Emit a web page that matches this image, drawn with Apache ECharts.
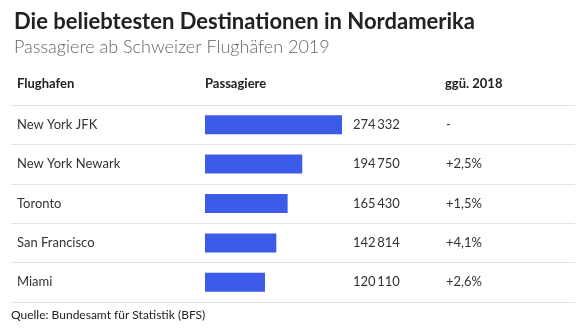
<!DOCTYPE html>
<html>
<head>
<meta charset="utf-8">
<script src="https://cdn.jsdelivr.net/npm/echarts@6/dist/echarts.min.js"></script>
<style>
  html, body { margin: 0; padding: 0; background: #fff; }
  #chart { width: 582px; height: 331px; }
</style>
</head>
<body>
<div id="chart"></div>
<script>
// Airports and passenger counts from Swiss airports, 2019
const airports = ['New York JFK', 'New York Newark', 'Toronto', 'San Francisco', 'Miami'];
const passengers = [274332, 194750, 165430, 142814, 120110];
// Change versus 2018 in percent (null = no comparison)
const changeVs2018 = [null, 2.5, 1.5, 4.1, 2.6];
const columnHeaders = ['Flughafen', 'Passagiere', 'ggü. 2018'];

const FONT = 'Lato, "Noto Sans", sans-serif';

function fmtThousands(v) {
  return String(v).replace(/\B(?=(\d{3})+(?!\d))/g, '\u2009');
}
function fmtChange(v) {
  if (v === null || v === undefined) return '-';
  return (v >= 0 ? '+' : '') + v.toFixed(1).replace('.', ',') + '%';
}

const chart = echarts.init(document.getElementById('chart'), null, { renderer: 'canvas' });

const rowTop = 105, rowsHeight = 197;
const rowText = { color: '#333', fontSize: 13, fontFamily: FONT };

chart.setOption({
  animation: false,
  textStyle: { fontFamily: FONT },
  title: {
    text: 'Die beliebtesten Destinationen in Nordamerika',
    subtext: 'Passagiere ab Schweizer Flughäfen 2019',
    left: 9, top: 6, itemGap: 5,
    textStyle: { fontSize: 22, fontWeight: 'bold', color: '#222', fontFamily: FONT },
    subtextStyle: { fontSize: 18, fontWeight: 300, color: '#666', fontFamily: FONT }
  },
  grid: [
    { left: 205, top: rowTop, width: 137, height: rowsHeight },
    { left: 11, right: 7, top: rowTop, height: rowsHeight }
  ],
  xAxis: [
    { type: 'value', gridIndex: 0, min: 0, max: Math.max(...passengers), show: false },
    { type: 'value', gridIndex: 1, show: false }
  ],
  yAxis: [
    {
      type: 'category', gridIndex: 0, data: airports, inverse: true,
      axisLine: { show: false }, axisTick: { show: false }, splitLine: { show: false },
      axisLabel: Object.assign({ align: 'left', margin: 188 }, rowText)
    },
    {
      type: 'category', gridIndex: 0, position: 'right', data: airports, inverse: true,
      axisLine: { show: false }, axisTick: { show: false }, splitLine: { show: false },
      axisLabel: Object.assign({ align: 'left', margin: 11,
        formatter: (val, i) => fmtThousands(passengers[i]) }, rowText)
    },
    {
      type: 'category', gridIndex: 0, position: 'right', data: airports, inverse: true,
      axisLine: { show: false }, axisTick: { show: false }, splitLine: { show: false },
      axisLabel: Object.assign({ align: 'left', margin: 104,
        formatter: (val, i) => fmtChange(changeVs2018[i]) }, rowText)
    },
    {
      type: 'category', gridIndex: 1, data: airports, inverse: true,
      axisLine: { show: false }, axisTick: { show: false }, axisLabel: { show: false },
      splitLine: { show: true, lineStyle: { color: '#e3e3e3', width: 1 } }
    }
  ],
  series: [
    {
      type: 'bar', xAxisIndex: 0, yAxisIndex: 0, data: passengers,
      barWidth: 19, itemStyle: { color: '#3b5be8' }, silent: true
    }
  ],
  graphic: [
    { type: 'text', left: 17, top: 77, style: { text: columnHeaders[0], font: 'bold 13px ' + FONT, fill: '#222' } },
    { type: 'text', left: 205, top: 77, style: { text: columnHeaders[1], font: 'bold 13px ' + FONT, fill: '#222' } },
    { type: 'text', left: 445, top: 77, style: { text: columnHeaders[2], font: 'bold 13px ' + FONT, fill: '#222' } },
    { type: 'text', left: 11, top: 309, style: { text: 'Quelle: Bundesamt für Statistik (BFS)', font: '12px ' + FONT, fill: '#222' } }
  ]
});
</script>
</body>
</html>
